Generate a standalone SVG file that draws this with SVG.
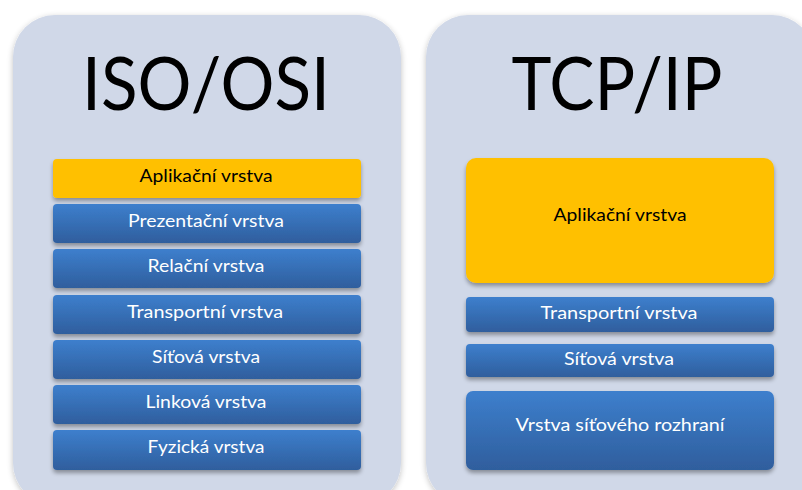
<svg xmlns="http://www.w3.org/2000/svg" width="802" height="490" viewBox="0 0 802 490">
<defs>
<linearGradient id="blue" x1="0" y1="0" x2="0" y2="1">
<stop offset="0" stop-color="#3D7FCD"/>
<stop offset="1" stop-color="#2F5E9D"/>
</linearGradient>
<filter id="sh" x="-10%" y="-20%" width="120%" height="150%">
<feGaussianBlur in="SourceAlpha" stdDeviation="2"/>
<feOffset dx="0" dy="3" result="b"/>
<feComponentTransfer><feFuncA type="linear" slope="0.35"/></feComponentTransfer>
<feMerge><feMergeNode/><feMergeNode in="SourceGraphic"/></feMerge>
</filter>
<filter id="psh" x="-10%" y="-10%" width="120%" height="120%">
<feGaussianBlur in="SourceAlpha" stdDeviation="3"/>
<feOffset dx="0" dy="2" result="b"/>
<feComponentTransfer><feFuncA type="linear" slope="0.25"/></feComponentTransfer>
<feMerge><feMergeNode/><feMergeNode in="SourceGraphic"/></feMerge>
</filter>
</defs>
<style>
.panel{fill:#D0D8E8;}
.b{fill:url(#blue);}
.y{fill:#FFC000;}
.t{font-family:Lato,"Open Sans","Liberation Sans",sans-serif;text-anchor:middle;}
.title{font-size:74px;fill:#000;}
.lw{font-size:18px;fill:#FFFFFF;}
.lk{font-size:18px;fill:#000;}
</style>
<rect width="802" height="490" fill="#FFFFFF"/>
<g id="iso-osi">
<rect class="panel" x="13" y="15" width="388" height="490" rx="42" filter="url(#psh)"/>
<text class="t title" x="206" y="110" textLength="248" lengthAdjust="spacingAndGlyphs">ISO/OSI</text>
</g>
<g id="tcp-ip">
<rect class="panel" x="426" y="15" width="388" height="490" rx="42" filter="url(#psh)"/>
<text class="t title" x="617" y="110" textLength="211" lengthAdjust="spacingAndGlyphs">TCP/IP</text>
</g>
<g id="osi-aplikacni"><rect class="y" x="53" y="159" width="308" height="39" rx="4" filter="url(#sh)"/><text class="t lk" x="206" y="182" textLength="133" lengthAdjust="spacingAndGlyphs">Aplikační vrstva</text></g>
<g id="osi-prezentacni"><rect class="b" x="53" y="204" width="308" height="39" rx="4" filter="url(#sh)"/><text class="t lw" x="206" y="227" textLength="156" lengthAdjust="spacingAndGlyphs">Prezentační vrstva</text></g>
<g id="osi-relacni"><rect class="b" x="53" y="249" width="308" height="39" rx="4" filter="url(#sh)"/><text class="t lw" x="206" y="272" textLength="117" lengthAdjust="spacingAndGlyphs">Relační vrstva</text></g>
<g id="osi-transportni"><rect class="b" x="53" y="295" width="308" height="39" rx="4" filter="url(#sh)"/><text class="t lw" x="205" y="318" textLength="156" lengthAdjust="spacingAndGlyphs">Transportní vrstva</text></g>
<g id="osi-sitova"><rect class="b" x="53" y="340" width="308" height="39" rx="4" filter="url(#sh)"/><text class="t lw" x="206" y="363" textLength="108" lengthAdjust="spacingAndGlyphs">Síťová vrstva</text></g>
<g id="osi-linkova"><rect class="b" x="53" y="385" width="308" height="39" rx="4" filter="url(#sh)"/><text class="t lw" x="206" y="408" textLength="121" lengthAdjust="spacingAndGlyphs">Linková vrstva</text></g>
<g id="osi-fyzicka"><rect class="b" x="53" y="430" width="308" height="40" rx="4" filter="url(#sh)"/><text class="t lw" x="206" y="453" textLength="117" lengthAdjust="spacingAndGlyphs">Fyzická vrstva</text></g>
<g id="tcp-aplikacni"><rect class="y" x="466" y="158" width="308" height="125" rx="10" filter="url(#sh)"/><text class="t lk" x="620" y="221" textLength="133" lengthAdjust="spacingAndGlyphs">Aplikační vrstva</text></g>
<g id="tcp-transportni"><rect class="b" x="466" y="297" width="308" height="35" rx="4" filter="url(#sh)"/><text class="t lw" x="619" y="319" textLength="157" lengthAdjust="spacingAndGlyphs">Transportní vrstva</text></g>
<g id="tcp-sitova"><rect class="b" x="466" y="344" width="308" height="33" rx="4" filter="url(#sh)"/><text class="t lw" x="619" y="365" textLength="110" lengthAdjust="spacingAndGlyphs">Síťová vrstva</text></g>
<g id="tcp-rozhrani"><rect class="b" x="466" y="391" width="308" height="79" rx="7" filter="url(#sh)"/><text class="t lw" x="620" y="431" textLength="209" lengthAdjust="spacingAndGlyphs">Vrstva síťového rozhraní</text></g>
<g id="connectors"/>
</svg>
